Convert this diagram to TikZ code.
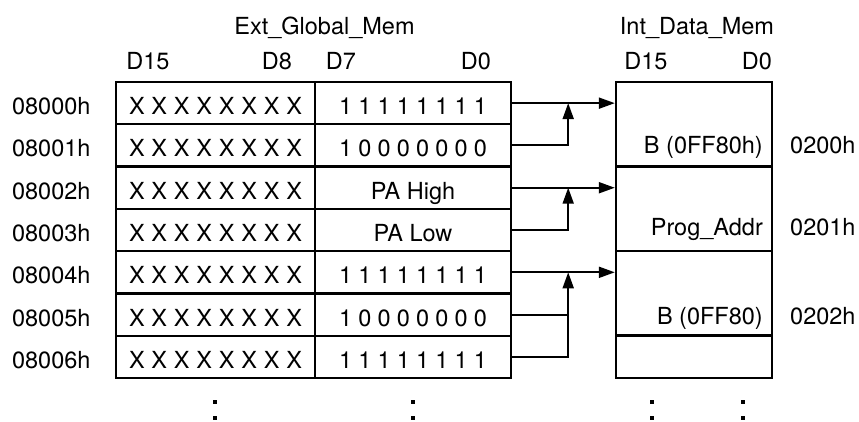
\documentclass[tikz,border=0pt]{standalone}
\usepackage{fontspec}
\setmainfont{TeX Gyre Heros}
\usetikzlibrary{arrows.meta,positioning}
\tikzset{
  cell/.style={draw,line width=2.4pt,inner sep=0pt,minimum height=42.29pt,text height=24pt,text depth=1pt},
  lbl/.style={inner sep=0pt,text height=24pt,text depth=1pt},
  flow/.style={line width=2pt,-{Triangle[length=16pt,width=11pt]}},
  link/.style={line width=2pt},
}
\newcommand\spreadto[2]{\makebox[#1][s]{#2}}
\newcommand\ones{\spreadto{148pt}{1 1 1 1 1 1 1 1}}
\newcommand\onezero{\spreadto{148pt}{1 0 0 0 0 0 0 0}}

\begin{document}
\begin{tikzpicture}[x=1pt,y=-1pt,font=\fontsize{23.5}{28}\selectfont]
\useasboundingbox (0,0) rectangle (859,421);
\node[lbl] (ext) at (324.5,22.5) {Ext\_Global\_Mem}; \node[lbl] (int) at (697,22.5) {Int\_Data\_Mem};
\node[lbl] (d15a) at (148,58) {D15}; \node[lbl] (d8) at (277,58) {D8};
\node[lbl] (d7) at (341,58) {D7}; \node[lbl] (d0a) at (476,58) {D0};
\node[lbl] (d15b) at (646,58) {D15}; \node[lbl] (d0b) at (757,58) {D0};
\foreach \r/\addr/\lo in {0/08000h/\ones,1/08001h/\onezero,2/08002h/PA High,3/08003h/PA Low,4/08004h/\ones,5/08005h/\onezero,6/08006h/\ones} {
  \pgfmathsetmacro\yy{82+42.29*(\r+0.5)}
  \node[cell,minimum width=199pt] (hi\r) at (215.5,\yy) {\spreadto{173pt}{X X X X X X X X}};
  \node[cell,minimum width=196pt] (lo\r) at (413,\yy) {\lo};
  \node[lbl,anchor=east] (ad\r) at (90.7,\yy) {\addr};
}
\node[cell,minimum width=156pt,minimum height=84.57pt] (im0) at (694,124.3) {};
\node[cell,minimum width=156pt,minimum height=84.57pt] (im1) at (694,208.9) {};
\node[cell,minimum width=156pt,minimum height=84.57pt] (im2) at (694,293.4) {};
\node[cell,minimum width=156pt] (im3) at (694,356.9) {};
\node[lbl,anchor=east] (v0) at (763,142.4) {B (0FF80h)}; \node[lbl,anchor=west] (ia0) at (790,142.4) {0200h};
\node[lbl,anchor=east] (v1) at (763,223.5) {Prog\_Addr}; \node[lbl,anchor=west] (ia1) at (790,223.5) {0201h};
\node[lbl,anchor=east] (v2) at (763,312.6) {B (0FF80)}; \node[lbl,anchor=west] (ia2) at (790,312.6) {0202h};
\foreach \a/\b/\c/\j in {0/1/im0/j0,2/3/im1/j1,4/6/im2/j2} {
  \path (lo\a.east) ++(56,0) coordinate (\j);
  \draw[flow] (lo\a.east) -- (lo\a.east -| \c.west);
  \draw[flow] (lo\b.east) -| (\j);
}
\draw[link] (lo5.east) -- (lo5.east -| j2);
\foreach \xx in {215,413,652,743} {\fill (\xx-2.3,399.5) rectangle ++(4.6,4.6); \fill (\xx-2.3,415.5) rectangle ++(4.6,4.6);}
\end{tikzpicture}
\end{document}
